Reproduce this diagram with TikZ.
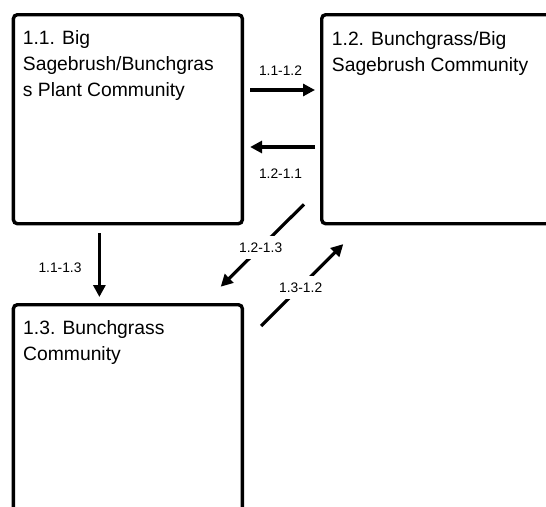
\documentclass[tikz,border=0pt]{standalone}
\usepackage{fontspec}
\setmainfont{Liberation Sans}
\usetikzlibrary{arrows.meta}
\begin{document}
\begin{tikzpicture}[x=1pt,y=-1pt,
  box/.style={draw=black, line width=3.4pt, rounded corners=4pt, anchor=north west, inner sep=0pt},
  boxtext/.style={anchor=north west, inner sep=0pt, align=left, font=\fontsize{19.3}{26}\selectfont},
  arr/.style={line width=3.2pt, -{Triangle[length=12pt,width=12pt]}},
  lbl/.style={fill=white, inner xsep=2pt, inner ysep=6.5pt, font=\fontsize{13.8}{15}\selectfont}
]
\useasboundingbox (0,0) rectangle (546,506);
\clip (0,0) rectangle (546,506);
% boxes
\node[box, minimum width=229pt, minimum height=209pt] (b11) at (11.7,13) {};
\node[box, minimum width=260pt, minimum height=209pt] (b12) at (320,13) {};
\node[box, minimum width=229pt, minimum height=230pt] (b13) at (11.7,303) {};
% texts
\node[boxtext] (t11) at (22.7,30.5) {1.1. Big\\Sagebrush/Bunchgras\\s Plant Community};
\node[boxtext] (t12) at (331.7,31) {1.2. Bunchgrass/Big\\Sagebrush Community};
\node[boxtext] (t13) at (23,320) {1.3. Bunchgrass\\Community};
% arrows
\draw[arr, shorten <=6pt, shorten >=5pt] (b11.east |- 0,90) -- (b12.west |- 0,90);
\draw[arr, shorten <=5pt, shorten >=6pt] (b12.west |- 0,147) -- (b11.east |- 0,147);
\draw[arr] ([xshift=-28.5pt,yshift=-8pt]b11.south) -- ([xshift=-28.5pt,yshift=6pt]b13.north);
\draw[arr] ([shift={(-16,-21)}]b12.south west) -- ([shift={(-23.4,-16.3)}]b13.north east);
\draw[arr] ([shift={(17,23)}]b13.north east) -- ([shift={(23.3,18.7)}]b12.south west);
% labels
\node[lbl] (l1) at (280.5,71) {1.1-1.2};
\node[lbl] (l2) at (280.5,174) {1.2-1.1};
\node[lbl] (l3) at (60,267.3) {1.1-1.3};
\node[lbl] (l4) at (260.7,247.3) {1.2-1.3};
\node[lbl] (l5) at (300.7,287.3) {1.3-1.2};
\end{tikzpicture}
\end{document}
